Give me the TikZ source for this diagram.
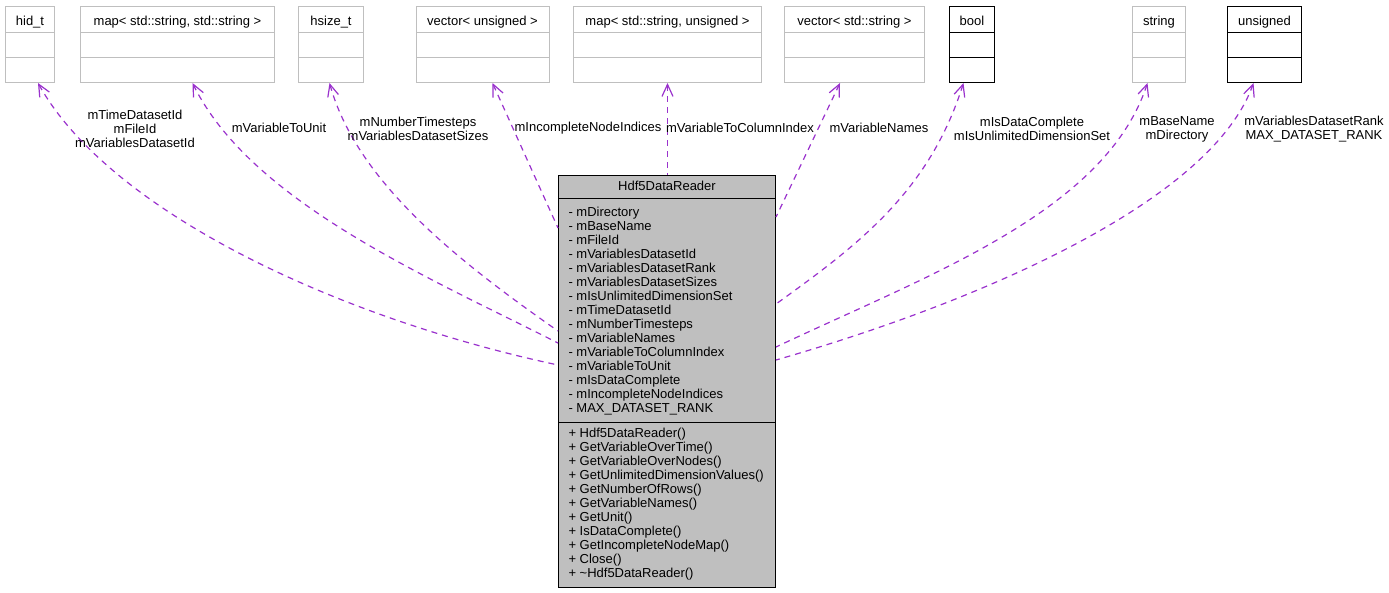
\documentclass[tikz,border=0pt]{standalone}
\usepackage{fontspec}
\setmainfont{Liberation Sans}
\usetikzlibrary{shapes.multipart,arrows.meta}
\definecolor{edgepurple}{RGB}{154,50,205}
\definecolor{boxgray}{RGB}{191,191,191}
\newcommand{\typeparts}[1]{\rule[-7pt]{0pt}{25pt}#1\nodepart{two}\rule{0pt}{24pt}\nodepart{three}\rule{0pt}{24pt}}

\begin{document}
\begin{tikzpicture}[x=1pt, y=-1pt,
  font=\fontsize{13}{14}\selectfont,
  typebox/.style={rectangle split, rectangle split parts=3, draw=boxgray, line width=1pt, inner sep=0pt, anchor=north west},
  ownbox/.style={typebox, draw=black},
  classbox/.style={rectangle split, rectangle split parts=3, rectangle split part align={center,left,left}, draw=black, fill=boxgray, line width=1pt, inner xsep=10pt, inner ysep=5pt, anchor=north west, minimum width=217pt},
  uses/.style={draw=edgepurple, line width=1.2pt, dash pattern=on 6pt off 5pt, {Straight Barb[length=12pt,width=11pt]}-}]
  \useasboundingbox (0,0) rectangle (1389,592);
  % Nodes
  \node (HID) [typebox, minimum width=49pt] at (5,6) {\typeparts{hid\_t}};
  \node (MAPSS) [typebox, minimum width=194pt] at (80,6) {\typeparts{map< std::string, std::string >}};
  \node (HSIZE) [typebox, minimum width=65pt] at (298,6) {\typeparts{hsize\_t}};
  \node (VECU) [typebox, minimum width=133pt] at (415.5,6) {\typeparts{vector< unsigned >}};
  \node (MAPSU) [typebox, minimum width=188pt] at (573,6) {\typeparts{map< std::string, unsigned >}};
  \node (VECS) [typebox, minimum width=140pt] at (784,6) {\typeparts{vector< std::string >}};
  \node (BOOL) [ownbox, minimum width=45pt] at (949,6) {\typeparts{bool}};
  \node (STR) [typebox, minimum width=53pt] at (1132,6) {\typeparts{string}};
  \node (UNS) [ownbox, minimum width=74pt] at (1227,6) {\typeparts{unsigned}};
  \node (READER) [classbox] at (558,175) {\rule[-3pt]{0pt}{11pt}Hdf5DataReader
    \nodepart{two}\begin{tabular}{@{}l@{}}
      \rule{0pt}{12pt}- mDirectory\\
      - mBaseName\\
      - mFileId\\
      - mVariablesDatasetId\\
      - mVariablesDatasetRank\\
      - mVariablesDatasetSizes\\
      - mIsUnlimitedDimensionSet\\
      - mTimeDatasetId\\
      - mNumberTimesteps\\
      - mVariableNames\\
      - mVariableToColumnIndex\\
      - mVariableToUnit\\
      - mIsDataComplete\\
      - mIncompleteNodeIndices\\
      - MAX\_DATASET\_RANK
    \end{tabular}
    \nodepart{three}\begin{tabular}{@{}l@{}}
      \rule{0pt}{10pt}+ Hdf5DataReader()\\
      + GetVariableOverTime()\\
      + GetVariableOverNodes()\\
      + GetUnlimitedDimensionValues()\\
      + GetNumberOfRows()\\
      + GetVariableNames()\\
      + GetUnit()\\
      + IsDataComplete()\\
      + GetIncompleteNodeMap()\\
      + Close()\\
      + \textasciitilde Hdf5DataReader()
    \end{tabular}};
  % Arrows
  \draw[uses] ([xshift=8pt]HID.south) .. controls (110,212) and (338,318) .. (READER.west |- 0,365);
  \draw[uses] ([xshift=15pt]MAPSS.south) .. controls (251,202) and (428,277) .. (READER.west |- 0,343);
  \draw[uses] ([xshift=-1.5pt]HSIZE.south) .. controls (357,182) and (458,261) .. (READER.west |- 0,331);
  \draw[uses] ([xshift=10pt]VECU.south) -- (READER.west |- 0,228);
  \draw[uses] (MAPSU.south) -- (READER.north -| MAPSU.south);
  \draw[uses] ([xshift=-14.5pt]VECS.south) -- (READER.east |- 0,217);
  \draw[uses] ([xshift=-8.5pt]BOOL.south) .. controls (929,192) and (858,245) .. (READER.east |- 0,304);
  \draw[uses] ([xshift=-11.5pt]STR.south) .. controls (1105,212) and (928,275) .. (READER.east |- 0,347);
  \draw[uses] ([xshift=-11pt]UNS.south) .. controls (1211,202) and (978,302) .. (READER.east |- 0,360);
  % Labels
  \node (LHID) [align=center] at (135,128.5) {mTimeDatasetId\\mFileId\\mVariablesDatasetId};
  \node (LMAPSS) at (279,128) {mVariableToUnit};
  \node (LHSIZE) [align=center] at (418,129) {mNumberTimesteps\\mVariablesDatasetSizes};
  \node (LVECU) at (588,128) {mIncompleteNodeIndices};
  \node (LMAPSU) at (740,128) {mVariableToColumnIndex};
  \node (LVECS) at (879,128) {mVariableNames};
  \node (LBOOL) [align=center] at (1032,129) {mIsDataComplete\\mIsUnlimitedDimensionSet};
  \node (LSTR) [align=center] at (1177,129) {mBaseName\\mDirectory};
  \node (LUNS) [align=center] at (1314,129) {mVariablesDatasetRank\\MAX\_DATASET\_RANK};
\end{tikzpicture}
\end{document}
